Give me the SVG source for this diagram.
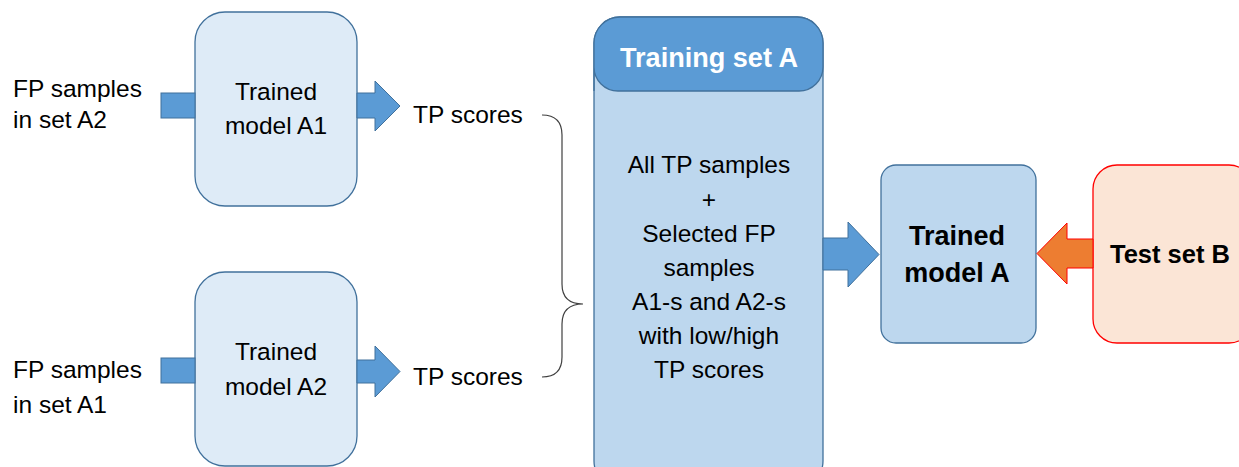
<svg xmlns="http://www.w3.org/2000/svg" width="1239" height="467" viewBox="0 0 1239 467">
  <style>
    .txt { font-family: "Liberation Sans", Arial, sans-serif; font-size: 24.5px; fill: #000; }
    .bold { font-family: "Liberation Sans", Arial, sans-serif; font-weight: bold; fill: #000; }
    .model { fill: #deebf7; stroke: #41719c; stroke-width: 1.3; }
    .blue-arrow { fill: #5b9bd5; stroke: #41719c; stroke-width: 1; }
    .brace { fill: none; stroke: #404040; stroke-width: 1.2; }
  </style>
  <rect width="1239" height="467" fill="#fff"/>

  <!-- input labels -->
  <g id="input-a2">
    <text class="txt" x="13" y="97">FP samples</text>
    <text class="txt" x="13" y="128">in set A2</text>
  </g>
  <g id="input-a1">
    <text class="txt" x="13" y="378">FP samples</text>
    <text class="txt" x="13" y="413">in set A1</text>
  </g>

  <!-- trained sub-models -->
  <g id="model-a1">
    <rect class="model" x="195" y="12" width="162" height="194" rx="30"/>
    <text class="txt" x="276" y="100" text-anchor="middle">Trained</text>
    <text class="txt" x="276" y="134" text-anchor="middle">model A1</text>
  </g>
  <g id="model-a2">
    <rect class="model" x="195" y="272" width="162" height="194" rx="30"/>
    <text class="txt" x="276" y="360" text-anchor="middle">Trained</text>
    <text class="txt" x="276" y="395" text-anchor="middle">model A2</text>
  </g>

  <!-- score outputs -->
  <g id="scores-a1">
    <text class="txt" x="413" y="123">TP scores</text>
  </g>
  <g id="scores-a2">
    <text class="txt" x="413" y="385">TP scores</text>
  </g>

  <!-- training set -->
  <g id="training-set-a">
    <rect x="594" y="17" width="229" height="470" rx="26" fill="#bdd7ee" stroke="#41719c" stroke-width="1.3"/>
    <path d="M594 91 V43 A26 26 0 0 1 620 17 H797 A26 26 0 0 1 823 43 V67 A24 24 0 0 1 799 91 H618 A24 24 0 0 1 594 67 Z" fill="#5b9bd5" stroke="#41719c" stroke-width="1.3"/>
    <text class="bold" x="709" y="67" text-anchor="middle" font-size="28" style="fill:#fff" textLength="178" lengthAdjust="spacingAndGlyphs">Training set A</text>
    <text class="txt" x="709" y="173" text-anchor="middle">All TP samples</text>
    <text class="txt" x="709" y="208" text-anchor="middle">+</text>
    <text class="txt" x="709" y="242" text-anchor="middle">Selected FP</text>
    <text class="txt" x="709" y="276" text-anchor="middle">samples</text>
    <text class="txt" x="709" y="310" text-anchor="middle">A1-s and A2-s</text>
    <text class="txt" x="709" y="344" text-anchor="middle">with low/high</text>
    <text class="txt" x="709" y="378" text-anchor="middle">TP scores</text>
  </g>

  <!-- final model -->
  <g id="model-a">
    <rect x="881" y="165" width="155" height="178" rx="15" fill="#bdd7ee" stroke="#41719c" stroke-width="1.3"/>
    <text class="bold" x="957" y="245" text-anchor="middle" font-size="27">Trained</text>
    <text class="bold" x="957" y="282" text-anchor="middle" font-size="27">model A</text>
  </g>

  <!-- test set -->
  <g id="test-set-b">
    <rect x="1093" y="165" width="160" height="178" rx="24" fill="#fbe5d6" stroke="#ff0000" stroke-width="1.3"/>
    <text class="bold" x="1170" y="263" text-anchor="middle" font-size="25.5">Test set B</text>
  </g>

  <!-- connectors -->
  <g id="connectors">
    <!-- inputs into sub-models -->
    <rect class="blue-arrow" x="161" y="93" width="34" height="25"/>
    <rect class="blue-arrow" x="161" y="358" width="34" height="25"/>
    <!-- sub-model outputs -->
    <path class="blue-arrow" d="M357 93 H375 V81 L400 106 L375 131 V118 H357 Z"/>
    <path class="blue-arrow" d="M357 360 H375 V346 L400 371.5 L375 397 V383 H357 Z"/>
    <!-- brace grouping both score sets -->
    <path class="brace" d="M542 115 Q562 115 562 135 V284 Q562 304 583 304 Q562 304 562 324 V357 Q562 377 542 377"/>
    <!-- training set to final model -->
    <path class="blue-arrow" d="M823 238 H848 V222 L879 254.5 L848 287 V270 H823 Z"/>
    <!-- test set into final model -->
    <path d="M1093 239 H1067 V223 L1037 253.5 L1067 284 V268 H1093 Z" fill="#ed7d31" stroke="#ff0000" stroke-width="1"/>
  </g>
</svg>
